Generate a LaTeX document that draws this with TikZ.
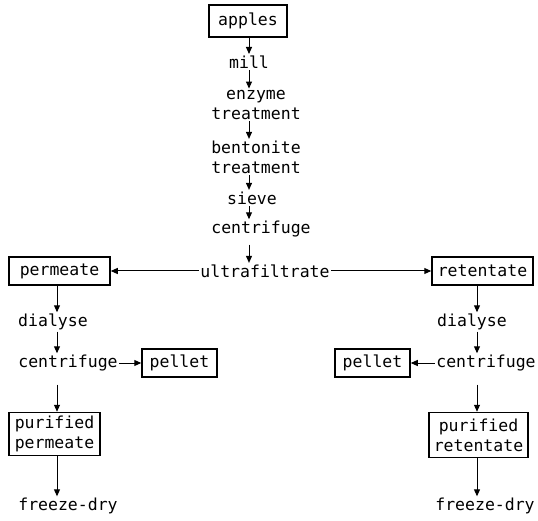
\documentclass[tikz,border=0pt]{standalone}
\usepackage{fontspec}
\setmonofont{DejaVu Sans Mono}
\usetikzlibrary{arrows.meta}
\begin{document}
\begin{tikzpicture}[x=1pt,y=-1pt,
  every node/.style={font=\ttfamily\fontsize{16.5}{20}\selectfont},
  stage/.style={inner sep=1.5pt, align=center},
  boxed/.style={draw, line width=1.5pt, inner sep=0pt, align=center},
  arr/.style={line width=1pt, -{Triangle[length=7pt,width=6pt]}}]
  \useasboundingbox (0,0) rectangle (538,521);

  % arrow columns
  \coordinate (cx) at (249,0);
  \coordinate (lx) at (57,0);
  \coordinate (rx) at (477,0);

  % central chain
  \node[boxed, minimum width=78pt, minimum height=32pt] (apples) at (248,21) {apples};
  \node[stage] (mill) at (249,62) {mill};
  \node[stage] (enz) at (256,105) {enzyme\\treatment};
  \node[stage] (bent) at (256,157) {bentonite\\treatment};
  \node[stage] (sieve) at (252,198) {sieve};
  \node[stage] (cen) at (261,229) {centrifuge};
  \node[stage] (ultra) at (265,271) {ultrafiltrate};

  % permeate branch
  \node[boxed, minimum width=101pt, minimum height=28pt] (perm) at (59.5,271) {permeate};
  \node[stage] (dialL) at (53,322) {dialyse};
  \node[stage] (cenL) at (68,363) {centrifuge};
  \node[boxed, minimum width=75pt, minimum height=28pt] (pelL) at (179.5,363) {pellet};
  \node[boxed, minimum width=91pt, minimum height=43pt] (purP) at (54.5,434) {purified\\permeate};
  \node[stage] (fdL) at (68,506) {freeze-dry};

  % retentate branch
  \node[boxed, minimum width=101pt, minimum height=28pt] (ret) at (482.5,271) {retentate};
  \node[stage] (dialR) at (472,322) {dialyse};
  \node[stage] (cenR) at (486,363) {centrifuge};
  \node[boxed, minimum width=75pt, minimum height=28pt] (pelR) at (372.5,363) {pellet};
  \node[boxed, minimum width=99pt, minimum height=45pt] (purR) at (478.5,435) {purified\\retentate};
  \node[stage] (fdR) at (485,506) {freeze-dry};

  % central arrows
  \draw[arr] (apples.south -| cx) -- (mill.north -| cx);
  \draw[arr] (mill.south -| cx) -- (enz.north -| cx);
  \draw[arr] (enz.south -| cx) -- (bent.north -| cx);
  \draw[arr] (bent.south -| cx) -- (sieve.north -| cx);
  \draw[arr] (sieve.south -| cx) -- (cen.north -| cx);
  \draw[arr] ([yshift=-6pt]cen.south -| cx) -- (ultra.north -| cx);

  % split
  \draw[arr] (ultra.west) -- (perm.east);
  \draw[arr] (ultra.east) -- (ret.west);

  % permeate arrows
  \draw[arr] (perm.south -| lx) -- (dialL.north -| lx);
  \draw[arr] (dialL.south -| lx) -- (cenL.north -| lx);
  \draw[arr] (cenL.east) -- (pelL.west);
  \draw[arr] ([yshift=-12pt]cenL.south -| lx) -- (purP.north -| lx);
  \draw[arr] (purP.south -| lx) -- (fdL.north -| lx);

  % retentate arrows
  \draw[arr] (ret.south -| rx) -- (dialR.north -| rx);
  \draw[arr] (dialR.south -| rx) -- (cenR.north -| rx);
  \draw[arr] (cenR.west) -- (pelR.east);
  \draw[arr] ([yshift=-12pt]cenR.south -| rx) -- (purR.north -| rx);
  \draw[arr] (purR.south -| rx) -- (fdR.north -| rx);
\end{tikzpicture}
\end{document}
